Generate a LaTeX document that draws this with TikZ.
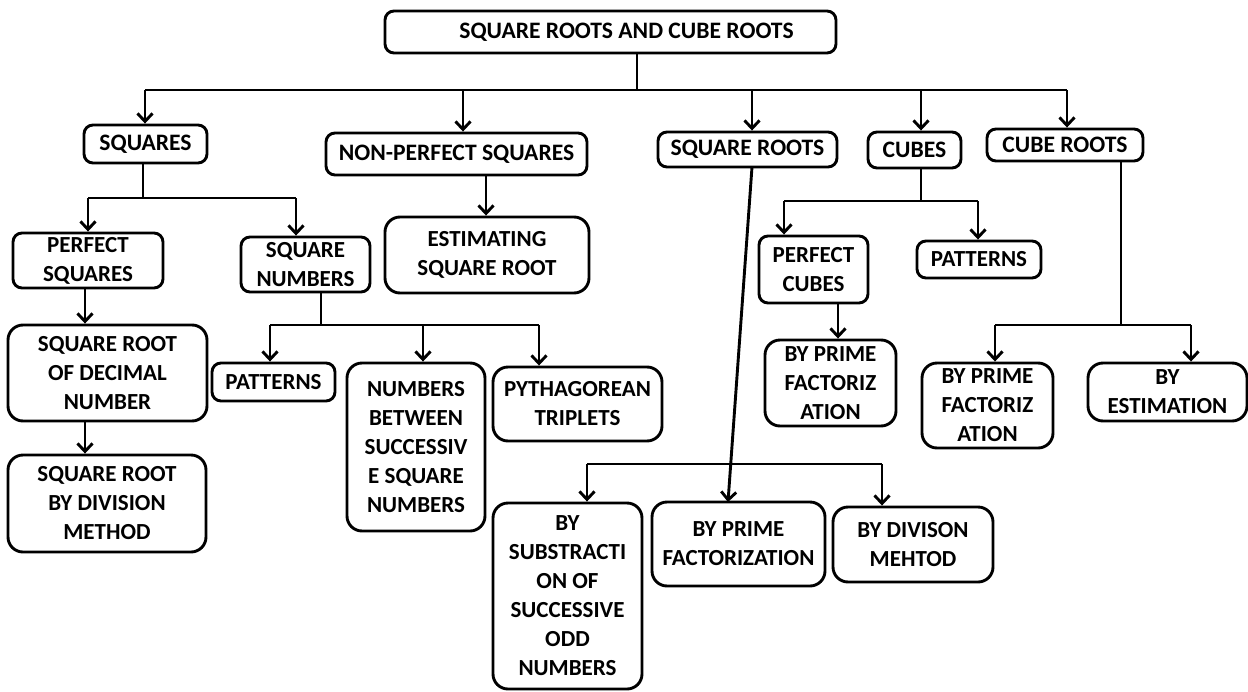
\documentclass[tikz,border=0pt]{standalone}
\usepackage{fontspec}
\setmainfont{Carlito}
\usetikzlibrary{arrows.meta}

% box given by its left, top, right and bottom edges
\newcommand\mapbox[7][]{%
  \node[box,#1,minimum width={(#5-#3)*1pt},minimum height={(#6-#4)*1pt}]
    (#2) at ({(#3+#5)/2},{(#4+#6)/2}) {#7};}

\begin{document}
\begin{tikzpicture}[x=1pt,y=-1pt,
  box/.style={draw,line width=2.9pt,rounded corners=9pt,inner sep=0pt,
    align=center,font=\bfseries\fontsize{23}{29}\selectfont},
  headbox/.style={font=\bfseries\fontsize{23.6}{29}\selectfont},
  bigbox/.style={rounded corners=15pt},
  link/.style={line width=2.9pt},
  arr/.style={link,-{Straight Barb[length=8pt,width=15pt]}}]
\useasboundingbox[fill=white] (0,0) rectangle (1248,691);

% top level
\mapbox[headbox]{root}{385}{11}{836}{53}{\hspace*{32pt}SQUARE ROOTS AND CUBE ROOTS}
\mapbox[headbox]{sq}{84}{125}{207}{163}{SQUARES}
\mapbox[headbox]{np}{326}{133}{587}{175}{NON-PERFECT SQUARES}
\mapbox[headbox]{sr}{658}{132}{837}{167}{SQUARE ROOTS}
\mapbox[headbox]{cu}{868}{132}{961}{168}{CUBES}
\mapbox[headbox]{cr}{987}{129}{1143}{161}{CUBE ROOTS}

% second level
\mapbox{ps}{13}{233}{163}{288}{PERFECT\\SQUARES}
\mapbox{sn}{241}{237}{370}{292}{SQUARE\\NUMBERS}
\mapbox[bigbox]{es}{385}{217}{589}{293}{ESTIMATING\\SQUARE ROOT}
\mapbox{pc}{759}{236}{868}{303}{PERFECT\\CUBES}
\mapbox{ptc}{917}{241}{1041}{278}{PATTERNS}

% squares branch
\mapbox[bigbox]{srd}{8}{325}{207}{421}{SQUARE ROOT\\OF DECIMAL\\NUMBER}
\mapbox[bigbox]{srdm}{8}{455}{206}{552}{SQUARE ROOT\\BY DIVISION\\METHOD}
\mapbox{pts}{212}{363}{335}{401}{PATTERNS}
\mapbox[bigbox]{nb}{347}{363}{485}{531}{NUMBERS\\BETWEEN\\SUCCESSIV\\E SQUARE\\NUMBERS}
\mapbox[bigbox]{py}{493}{367}{662}{441}{PYTHAGOREAN\\TRIPLETS}

% cubes branch
\mapbox[bigbox]{cpf}{765}{340}{896}{426}{BY PRIME\\FACTORIZ\\ATION}
\mapbox[bigbox]{crpf}{922}{363}{1053}{448}{BY PRIME\\FACTORIZ\\ATION}
\mapbox[bigbox]{cre}{1088}{363}{1247}{421}{BY\\ESTIMATION}

% square roots branch
\mapbox[bigbox]{sub}{493}{503}{642}{689}{BY\\SUBSTRACTI\\ON OF\\SUCCESSIVE\\ODD\\NUMBERS}
\mapbox[bigbox]{spf}{652}{502}{825}{586}{BY PRIME\\FACTORIZATION}
\mapbox[bigbox]{sdm}{833}{507}{993}{582}{BY DIVISON\\MEHTOD}

% junction points of the connector buses
\coordinate (j0) at (637,90);
\coordinate (t1) at (145,90);
\coordinate (t2) at (463,90);
\coordinate (t3) at (752,90);
\coordinate (t4) at (921,90);
\coordinate (t5) at (1067,90);

\coordinate (js) at (143,198);
\coordinate (s1) at (88,198);
\coordinate (s2) at (296,198);

\coordinate (jn) at (321,325);
\coordinate (n1) at (270,325);
\coordinate (n2) at (423,325);
\coordinate (n3) at (539,325);

\coordinate (jc) at (921,201);
\coordinate (c1) at (784,201);
\coordinate (c2) at (978,201);

\coordinate (jr) at (1121,325);
\coordinate (r1) at (995,325);
\coordinate (r2) at (1191,325);

\coordinate (q0) at (752,167);
\coordinate (q1) at (587,464);
\coordinate (q2) at (882,464);
\coordinate (q3) at (728,502);

\coordinate (np0) at (486,0);
\coordinate (ps0) at (85,0);
\coordinate (pc0) at (838,0);

% root to first level
\draw[link] (root.south -| j0) -- (j0);
\draw[link] (t1) -- (t5);
\draw[arr] (t1) -- (t1 |- sq.north);
\draw[arr] (t2) -- (t2 |- np.north);
\draw[arr] (t3) -- (t3 |- sr.north);
\draw[arr] (t4) -- (t4 |- cu.north);
\draw[arr] (t5) -- (t5 |- cr.north);

% squares
\draw[link] (sq.south -| js) -- (js);
\draw[link] (s1) -- (s2);
\draw[arr] (s1) -- (s1 |- ps.north);
\draw[arr] (s2) -- (s2 |- sn.north);
\draw[arr] (ps.south -| ps0) -- (srd.north -| ps0);
\draw[arr] (srd.south -| ps0) -- (srdm.north -| ps0);

% square numbers
\draw[link] (sn.south -| jn) -- (jn);
\draw[link] (n1) -- (n3);
\draw[arr] (n1) -- (n1 |- pts.north);
\draw[arr] (n2) -- (n2 |- nb.north);
\draw[arr] (n3) -- (n3 |- py.north);

% non-perfect squares
\draw[arr] (np.south -| np0) -- (es.north -| np0);

% square roots
\draw[arr] (q0) -- (q3);
\draw[link] (q1) -- (q2);
\draw[arr] (q1) -- (q1 |- sub.north);
\draw[arr] (q2) -- (q2 |- sdm.north);

% cubes
\draw[link] (cu.south -| jc) -- (jc);
\draw[link] (c1) -- (c2);
\draw[arr] (c1) -- (c1 |- pc.north);
\draw[arr] (c2) -- (c2 |- ptc.north);
\draw[arr] (pc.south -| pc0) -- (cpf.north -| pc0);

% cube roots
\draw[link] (cr.south -| jr) -- (jr);
\draw[link] (r1) -- (r2);
\draw[arr] (r1) -- (r1 |- crpf.north);
\draw[arr] (r2) -- (r2 |- cre.north);
\end{tikzpicture}
\end{document}
